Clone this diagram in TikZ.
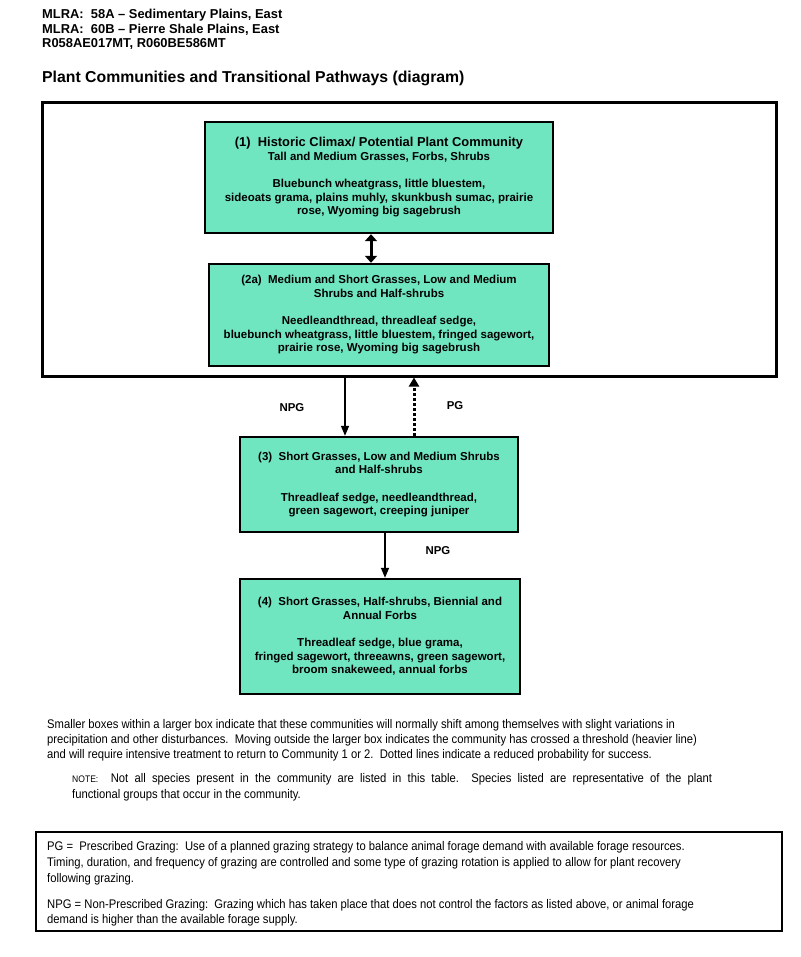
\documentclass[tikz,border=0pt]{standalone}
\usepackage{fontspec}
\setmainfont{Liberation Sans}
\newfontfamily\narrowfont[FakeStretch=0.9]{Liberation Sans}
\usetikzlibrary{arrows.meta}
\definecolor{mint}{RGB}{112,230,192}
\tikzset{
  x=1pt, y=-1pt,
  commbox/.style={draw=black, line width=2.4pt, fill=mint, align=center, inner sep=0pt,
    font=\bfseries\fontsize{11.5}{13.6}\selectfont},
  hdr/.style={anchor=base west, inner sep=0pt, font=\bfseries\fontsize{12.9}{14}\selectfont},
  para/.style={anchor=base west, inner sep=0pt, font=\narrowfont\fontsize{12.5}{14}\selectfont},
  lbl/.style={inner sep=0pt, font=\bfseries\fontsize{11.4}{12}\selectfont},
  arr/.style={line width=1.5pt, -{Triangle[length=10pt,width=8pt]}},
}
\begin{document}
\begin{tikzpicture}
\useasboundingbox[fill=white] (0,0) rectangle (800,957);
% header
\node[hdr] (h1) at (42,19) {MLRA:\ \ 58A -- Sedimentary Plains, East};
\node[hdr] (h2) at (42,34) {MLRA:\ \ 60B -- Pierre Shale Plains, East};
\node[hdr] (h3) at (42,48) {R058AE017MT, R060BE586MT};
\node[hdr, font=\bfseries\fontsize{15.8}{18}\selectfont] (title) at (42,83) {Plant Communities and Transitional Pathways (diagram)};
% outer box
\node[draw=black, line width=3pt, minimum width=734pt, minimum height=273pt, inner sep=0pt] (outer) at (409,239.5) {};
% community boxes
\node[commbox, minimum width=348pt, minimum height=111pt] (b1) at (379,177.5)
 {{\fontsize{12.9}{13.6}\selectfont (1)\ \ Historic Climax/ Potential Plant Community}\\
  Tall and Medium Grasses, Forbs, Shrubs\\[13.6pt]
  Bluebunch wheatgrass, little bluestem,\\
  sideoats grama, plains muhly, skunkbush sumac, prairie\\
  rose, Wyoming big sagebrush};
\node[commbox, minimum width=340pt, minimum height=102pt] (b2) at (379,315)
 {(2a)\ \ Medium and Short Grasses, Low and Medium\\
  Shrubs and Half-shrubs\\[13.6pt]
  Needleandthread, threadleaf sedge,\\
  bluebunch wheatgrass, little bluestem, fringed sagewort,\\
  prairie rose, Wyoming big sagebrush};
\node[commbox, minimum width=278pt, minimum height=95pt] (b3) at (379,484.5)
 {(3)\ \ Short Grasses, Low and Medium Shrubs\\
  and Half-shrubs\\[13.6pt]
  Threadleaf sedge, needleandthread,\\
  green sagewort, creeping juniper};
\node[commbox, minimum width=280pt, minimum height=115pt] (b4) at (380,636.5)
 {(4)\ \ Short Grasses, Half-shrubs, Biennial and\\
  Annual Forbs\\[13.6pt]
  Threadleaf sedge, blue grama,\\
  fringed sagewort, threeawns, green sagewort,\\
  broom snakeweed, annual forbs};
% connectors
\draw[line width=3pt, {Triangle[length=7pt,width=12pt]}-{Triangle[length=7pt,width=12pt]}]
  ([xshift=-8pt]b1.south) -- ([xshift=-8pt]b1.south |- b2.north);
\draw[arr] ([xshift=-34pt]b3.north |- outer.south) -- ([xshift=-34pt]b3.north);
\draw[line width=3pt, dotted, -{Triangle[length=9pt,width=10pt]}] ([xshift=35pt]b3.north) -- ([xshift=35pt]b3.north |- outer.south);
\draw[arr] ([xshift=6pt]b3.south) -- ([xshift=6pt]b3.south |- b4.north);
\node[lbl] (l1) at (292,408) {NPG};
\node[lbl] (l2) at (455,406) {PG};
\node[lbl] (l3) at (438,551) {NPG};
% explanation
\node[para] (p1) at (47,728) {Smaller boxes within a larger box indicate that these communities will normally shift among themselves with slight variations in};
\node[para] (p2) at (47,743) {precipitation and other disturbances.\ \ Moving outside the larger box indicates the community has crossed a threshold (heavier line)};
\node[para] (p3) at (47,758) {and will require intensive treatment to return to Community 1 or 2.\ \ Dotted lines indicate a reduced probability for success.};
\node[para] (n1) at (72,782) {\makebox[640pt][s]{{\fontsize{9.5}{10}\selectfont NOTE:}\ \ Not all species present in the community are listed in this table.\ \ Species listed are representative of the plant}};
\node[para] (n2) at (72,798) {functional groups that occur in the community.};
% definitions box
\node[draw=black, line width=1.2pt, minimum width=746pt, minimum height=99pt, inner sep=0pt] (defs) at (409,881.5) {};
\node[para] (d1) at (47,850) {PG =\ \ Prescribed Grazing:\ \ Use of a planned grazing strategy to balance animal forage demand with available forage resources.};
\node[para] (d2) at (47,866) {Timing, duration, and frequency of grazing are controlled and some type of grazing rotation is applied to allow for plant recovery};
\node[para] (d3) at (47,882) {following grazing.};
\node[para] (d4) at (47,908) {NPG = Non-Prescribed Grazing:\ \ Grazing which has taken place that does not control the factors as listed above, or animal forage};
\node[para] (d5) at (47,923) {demand is higher than the available forage supply.};
\end{tikzpicture}
\end{document}
